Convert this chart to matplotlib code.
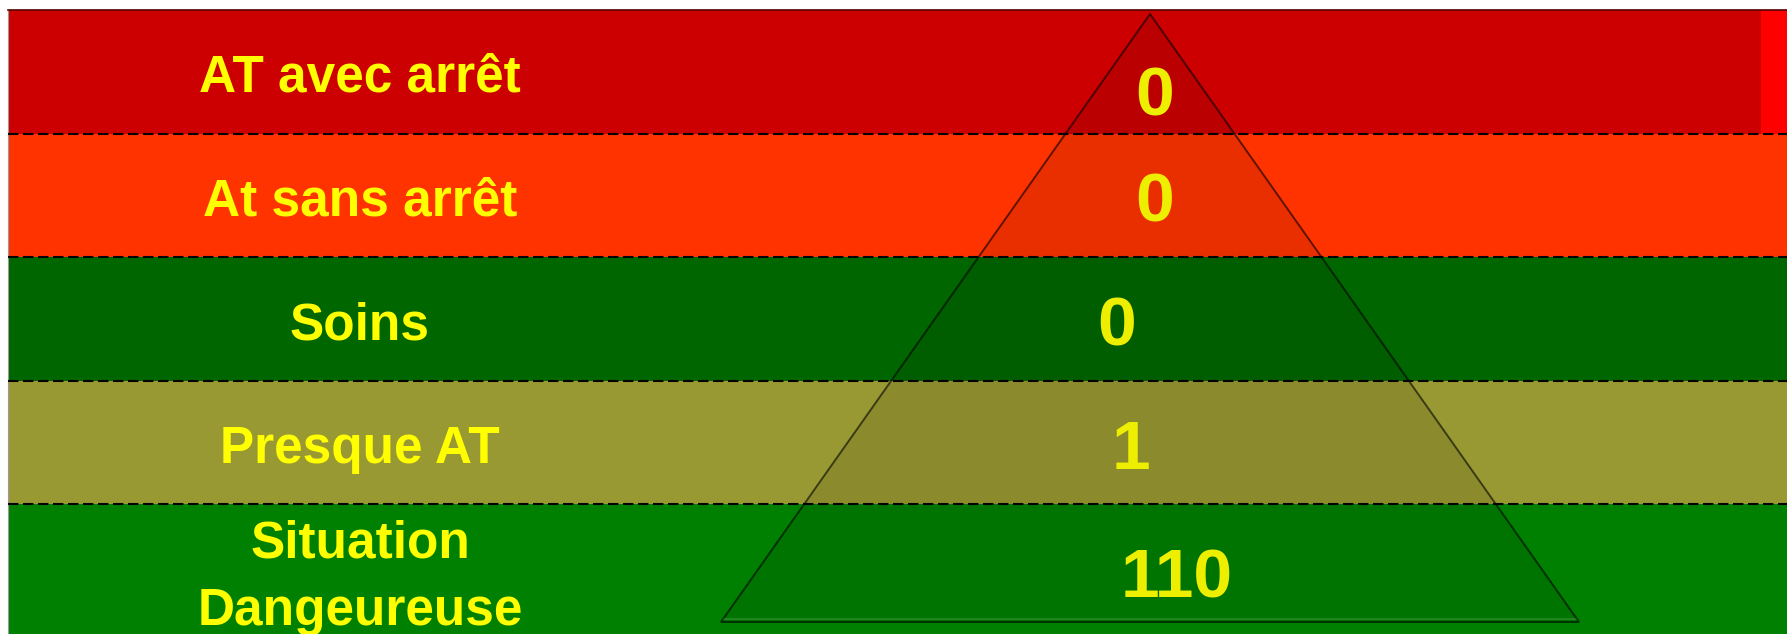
import matplotlib
matplotlib.use("Agg")
import matplotlib.pyplot as plt
from matplotlib.patches import Polygon

# ---- data ----
categories = ["AT avec arrêt", "At sans arrêt", "Soins", "Presque AT", "Situation\nDangeureuse"]
values = [0, 0, 0, 1, 110]
band_colors = ["#CC0000", "#FF3300", "#006600", "#999933", "#008000"]

# ---- layout (pixels of a 1787x634 canvas) ----
W, H = 1787, 634
fig = plt.figure(figsize=(W / 100, H / 100), dpi=100)
fig.patch.set_facecolor("white")

left_px, top_px = 8, 10
band_px = 123.5
ax = fig.add_axes([left_px / W, 0, (W - left_px) / W, (H - top_px) / H])
ymax = (H - top_px) / band_px
ax.set_xlim(left_px, W)
ax.set_ylim(ymax, 0)
ax.set_xticks([])
ax.set_yticks([])
for s in ["right", "bottom"]:
    ax.spines[s].set_visible(False)
ax.spines["top"].set_color("#550000")
ax.spines["top"].set_linewidth(1.2)
ax.spines["left"].set_color("#9a9a9a")
ax.spines["left"].set_linewidth(0.8)

n = len(categories)
heights = [1] * (n - 1) + [ymax - (n - 1)]
ax.barh(range(n), [W - left_px] * n, left=left_px, height=heights,
        align="edge", color=band_colors, linewidth=0, zorder=1)
# bright red tab at the right of the top band
ax.barh(0, W - 1761, left=1761, height=1, align="edge", color="#FF0000",
        linewidth=0, zorder=1.5)

# dashed separators
for i in range(1, n):
    ax.axhline(i, color="black", lw=1.5, ls=(0, (5, 2.2)), zorder=3)


def py(ypx):
    return (ypx - top_px) / band_px


# pyramid
apex_x, apex_y, base_y, half_base = 1150, 14, 622, 429
tri = Polygon([(apex_x, py(apex_y)), (apex_x - half_base, py(base_y)),
               (apex_x + half_base, py(base_y))], closed=True,
              facecolor=(0, 0, 0, 0.085), edgecolor=(0, 0, 0, 0.6),
              linewidth=1.4, zorder=2)
ax.add_patch(tri)
# subtle bevel above the base
ax.plot([apex_x - half_base + 3, apex_x + half_base - 3], [py(base_y - 3)] * 2,
        color=(1, 1, 1, 0.12), lw=1.5, zorder=2.1)

# category labels (baseline of last line placed in each band)
label_x = 360
label_base = [82, 82, 82, 82, 121]
for i, lab in enumerate(categories):
    ax.text(label_x, i + label_base[i] / band_px, lab, ha="center", va="baseline",
            fontsize=37, fontweight="bold", family="Liberation Sans",
            color="#FFFF00", linespacing=1.5, zorder=4)

# values
num_x = [1155, 1155, 1117, 1131, 1177]
num_base = [106, 88, 88, 88, 94]
for i, v in enumerate(values):
    ax.text(num_x[i], i + num_base[i] / band_px, str(v), ha="center", va="baseline",
            fontsize=50, fontweight="bold", family="Liberation Sans",
            color="#EEEE00", zorder=4)

fig.savefig("out.png", dpi=100, facecolor="white")
